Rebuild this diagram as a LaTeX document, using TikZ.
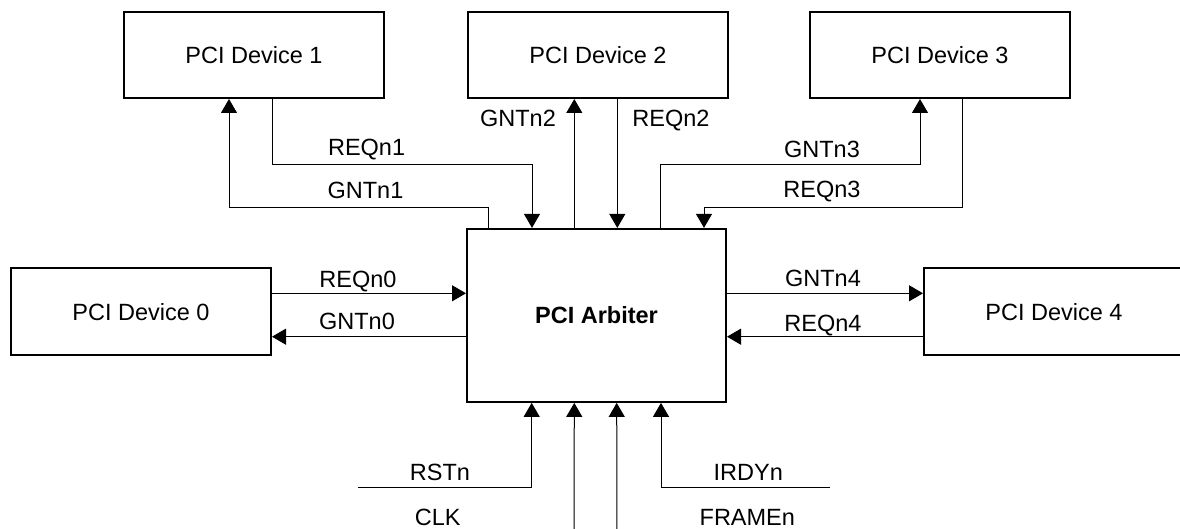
\documentclass[tikz,border=0pt]{standalone}
\usepackage{fontspec}
\setmainfont{Liberation Sans}
\usetikzlibrary{arrows.meta}
\tikzset{
  dev/.style={draw, line width=1pt, minimum width=130pt, minimum height=43pt, inner sep=0pt, font=\fontsize{11.75}{14}\selectfont},
  arb/.style={draw, line width=1pt, minimum width=129.5pt, minimum height=86.5pt, inner sep=0pt, font=\fontsize{11.75}{14}\selectfont\bfseries},
  lbl/.style={inner sep=0pt, text height=8.4pt, text depth=0pt, font=\fontsize{11.75}{14}\selectfont},
  wire/.style={line width=0.5pt},
  sig/.style={line width=0.5pt, -{Triangle[length=7pt, width=8pt]}}
}
\begin{document}
\begin{tikzpicture}[x=0.5pt, y=-0.5pt]
\useasboundingbox (0,0) rectangle (1180,529);
\clip (0,0) rectangle (1180,529);
% boxes
\node[dev] (D1) at (254,55) {PCI Device 1};
\node[dev] (D2) at (598,55) {PCI Device 2};
\node[dev] (D3) at (940,55) {PCI Device 3};
\node[dev, minimum height=43.5pt] (D0) at (141,311.7) {PCI Device 0};
\node[dev, minimum height=43.5pt] (D4) at (1054,311.9) {PCI Device 4};
\node[arb] (A) at (596.5,315.4) {PCI Arbiter};
% free ends
\coordinate (rst) at (358,488);
\coordinate (irdy) at (830,488);
\coordinate (clk) at (574,545);
\coordinate (frm) at (617,545);
% top connectors
\draw[sig] (A.north -| 488.3,0) |- (229,207.7) -- (D1.south -| 229,0);
\draw[sig] (D1.south -| 272,0) |- (532,164.3) -- (A.north -| 532,0);
\draw[sig] (A.north -| 574.3,0) -- (D2.south -| 574.3,0);
\draw[sig] (D2.south -| 617.3,0) -- (A.north -| 617.3,0);
\draw[sig] (A.north -| 660,0) |- (920,164.3) -- (D3.south -| 920,0);
\draw[sig] (D3.south -| 962.7,0) |- (704,207.7) -- (A.north -| 704,0);
% side connectors
\draw[sig] (D0.east |- 0,293.3) -- (A.west |- 0,293.3);
\draw[sig] (A.west |- 0,336.7) -- (D0.east |- 0,336.7);
\draw[sig] (A.east |- 0,293.3) -- (D4.west |- 0,293.3);
\draw[sig] (D4.west |- 0,336.7) -- (A.east |- 0,336.7);
% bottom connectors
\draw[sig] (rst) -| (A.south -| 531.7,0);
\draw[sig] (clk) -- (A.south -| 574.3,0);
\draw[sig] (frm) -- (A.south -| 616.7,0);
\draw[sig] (irdy) -| (A.south -| 661,0);
% labels
\node[lbl] (lREQ1) at (366.6,146.7) {REQn1};
\node[lbl] (lGNT1) at (365.5,190) {GNTn1};
\node[lbl] (lGNT2) at (518,117.7) {GNTn2};
\node[lbl] (lREQ2) at (671,117.7) {REQn2};
\node[lbl] (lGNT3) at (822,149) {GNTn3};
\node[lbl] (lREQ3) at (822,189) {REQn3};
\node[lbl] (lREQ0) at (358,279) {REQn0};
\node[lbl] (lGNT0) at (357,321) {GNTn0};
\node[lbl] (lGNT4) at (823,278) {GNTn4};
\node[lbl] (lREQ4) at (823,322.7) {REQn4};
\node[lbl] (lRST) at (440,471.7) {RSTn};
\node[lbl] (lIRDY) at (748.3,471.7) {IRDYn};
\node[lbl] (lCLK) at (437.7,516.7) {CLK};
\node[lbl] (lFRM) at (747.3,516.7) {FRAMEn};
\end{tikzpicture}
\end{document}
